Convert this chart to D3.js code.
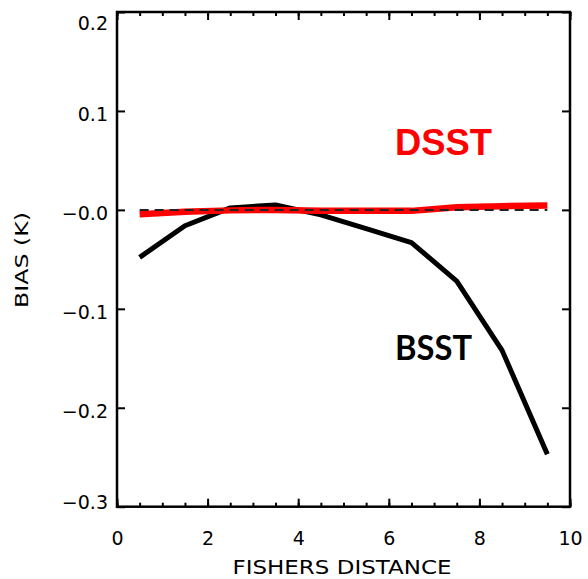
<!DOCTYPE html>
<html>
<head>
<meta charset="utf-8">
<script src="https://cdn.jsdelivr.net/npm/d3@7"></script>
<style>
  body { margin: 0; background: #fff; }
  svg { display: block; }
</style>
</head>
<body>
<div id="chart"></div>
<script>
// data
const distance = [0.5, 1.5, 2.5, 3.5, 4.5, 5.5, 6.5, 7.5, 8.5, 9.5];
const bsst = [-0.048, -0.016, 0.002, 0.005, -0.005, -0.019, -0.033, -0.072, -0.142, -0.247];
const dsst = [-0.0045, -0.002, -0.0005, 0.0, -0.001, -0.001, -0.001, 0.0027, 0.0037, 0.0045];
const xTicks = [0, 2, 4, 6, 8, 10];
const xMinorTicks = d3.range(0, 10.01, 0.5);
const yTicks = [0.2, 0.1, 0.0, -0.1, -0.2, -0.3];
const yTickLabels = ["0.2", "0.1", "\u22120.0", "\u22120.1", "\u22120.2", "\u22120.3"];

const W = 588, H = 579;
const plot = { left: 117, right: 570, top: 12, bottom: 506.7 };

const svg = d3.select("#chart")
  .append("svg")
  .attr("width", W)
  .attr("height", H);

svg.append("rect").attr("width", W).attr("height", H).attr("fill", "#fff");

const x = d3.scaleLinear().domain([0, 10]).range([plot.left, plot.right]);
const y = d3.scaleLinear().domain([-0.3, 0.2]).range([plot.bottom, plot.top]);

const tickFont = "'DejaVu Sans', sans-serif";

// ticks point inward on all four sides
function styleAxis(g) {
  g.select(".domain").remove();
  g.selectAll(".tick line").attr("stroke", "#000").attr("stroke-width", 2);
}

svg.append("g")
  .attr("transform", `translate(0,${plot.bottom})`)
  .call(d3.axisBottom(x).tickValues(xMinorTicks).tickSize(-4).tickFormat(""))
  .call(styleAxis);

svg.append("g")
  .attr("transform", `translate(0,${plot.bottom})`)
  .call(d3.axisBottom(x).tickValues(xTicks).tickSize(-8).tickFormat(d3.format("d")))
  .call(styleAxis)
  .call(g => g.selectAll(".tick text")
    .attr("y", 38).attr("dy", 0)
    .style("font-family", tickFont).style("font-size", "19px").attr("fill", "#000"));

svg.append("g")
  .attr("transform", `translate(0,${plot.top})`)
  .call(d3.axisTop(x).tickValues(xMinorTicks).tickSize(-4).tickFormat(""))
  .call(styleAxis);

svg.append("g")
  .attr("transform", `translate(0,${plot.top})`)
  .call(d3.axisTop(x).tickValues(xTicks).tickSize(-8).tickFormat(""))
  .call(styleAxis);

svg.append("g")
  .attr("transform", `translate(${plot.left},0)`)
  .call(d3.axisLeft(y).tickValues(yTicks).tickSize(-8).tickPadding(9)
    .tickFormat((d, i) => yTickLabels[i]))
  .call(styleAxis)
  .call(g => g.selectAll(".tick text")
    .attr("dy", 0)
    .attr("y", d => {
      const ty = y(d);
      return Math.max(29 - ty, Math.min(10, 508 - ty));
    })
    .style("font-family", tickFont).style("font-size", "19px").attr("fill", "#000"));

svg.append("g")
  .attr("transform", `translate(${plot.right},0)`)
  .call(d3.axisRight(y).tickValues(yTicks).tickSize(-8).tickFormat(""))
  .call(styleAxis);

// frame
svg.append("rect")
  .attr("x", plot.left)
  .attr("y", plot.top)
  .attr("width", plot.right - plot.left)
  .attr("height", plot.bottom - plot.top)
  .attr("fill", "none")
  .attr("stroke", "#000")
  .attr("stroke-width", 2.5);

const line = d3.line()
  .x((d, i) => x(distance[i]))
  .y(d => y(d));

svg.append("path")
  .datum(bsst)
  .attr("d", line)
  .attr("fill", "none")
  .attr("stroke", "#000")
  .attr("stroke-width", 5)
  .attr("stroke-linejoin", "round");

svg.append("path")
  .datum(dsst)
  .attr("d", line)
  .attr("fill", "none")
  .attr("stroke", "#ff0000")
  .attr("stroke-width", 6.5);

// zero reference line
svg.append("line")
  .attr("x1", x(distance[0]))
  .attr("x2", x(distance[distance.length - 1]))
  .attr("y1", y(0))
  .attr("y2", y(0))
  .attr("stroke", "#222")
  .attr("stroke-width", 2)
  .attr("stroke-dasharray", "9,6");

// axis titles
svg.append("text")
  .attr("transform", "translate(28,260) rotate(-90)")
  .attr("text-anchor", "middle")
  .attr("textLength", 96)
  .attr("lengthAdjust", "spacingAndGlyphs")
  .style("font-family", tickFont)
  .style("font-size", "17px")
  .text("BIAS (K)");

svg.append("text")
  .attr("x", 342)
  .attr("y", 574)
  .attr("text-anchor", "middle")
  .attr("textLength", 219)
  .attr("lengthAdjust", "spacingAndGlyphs")
  .style("font-family", tickFont)
  .style("font-size", "20px")
  .text("FISHERS DISTANCE");

// series labels
svg.append("text")
  .attr("x", 395)
  .attr("y", 155)
  .attr("fill", "#ff0000")
  .style("font-family", "'Liberation Sans', Arial, sans-serif")
  .style("font-weight", "bold")
  .style("font-size", "37px")
  .attr("textLength", 97)
  .attr("lengthAdjust", "spacingAndGlyphs")
  .text("DSST");

svg.append("text")
  .attr("x", 395)
  .attr("y", 360)
  .attr("fill", "#000")
  .style("font-family", "Lato, sans-serif")
  .style("font-weight", "bold")
  .style("font-size", "35px")
  .attr("textLength", 77)
  .attr("lengthAdjust", "spacingAndGlyphs")
  .text("BSST");
</script>
</body>
</html>
